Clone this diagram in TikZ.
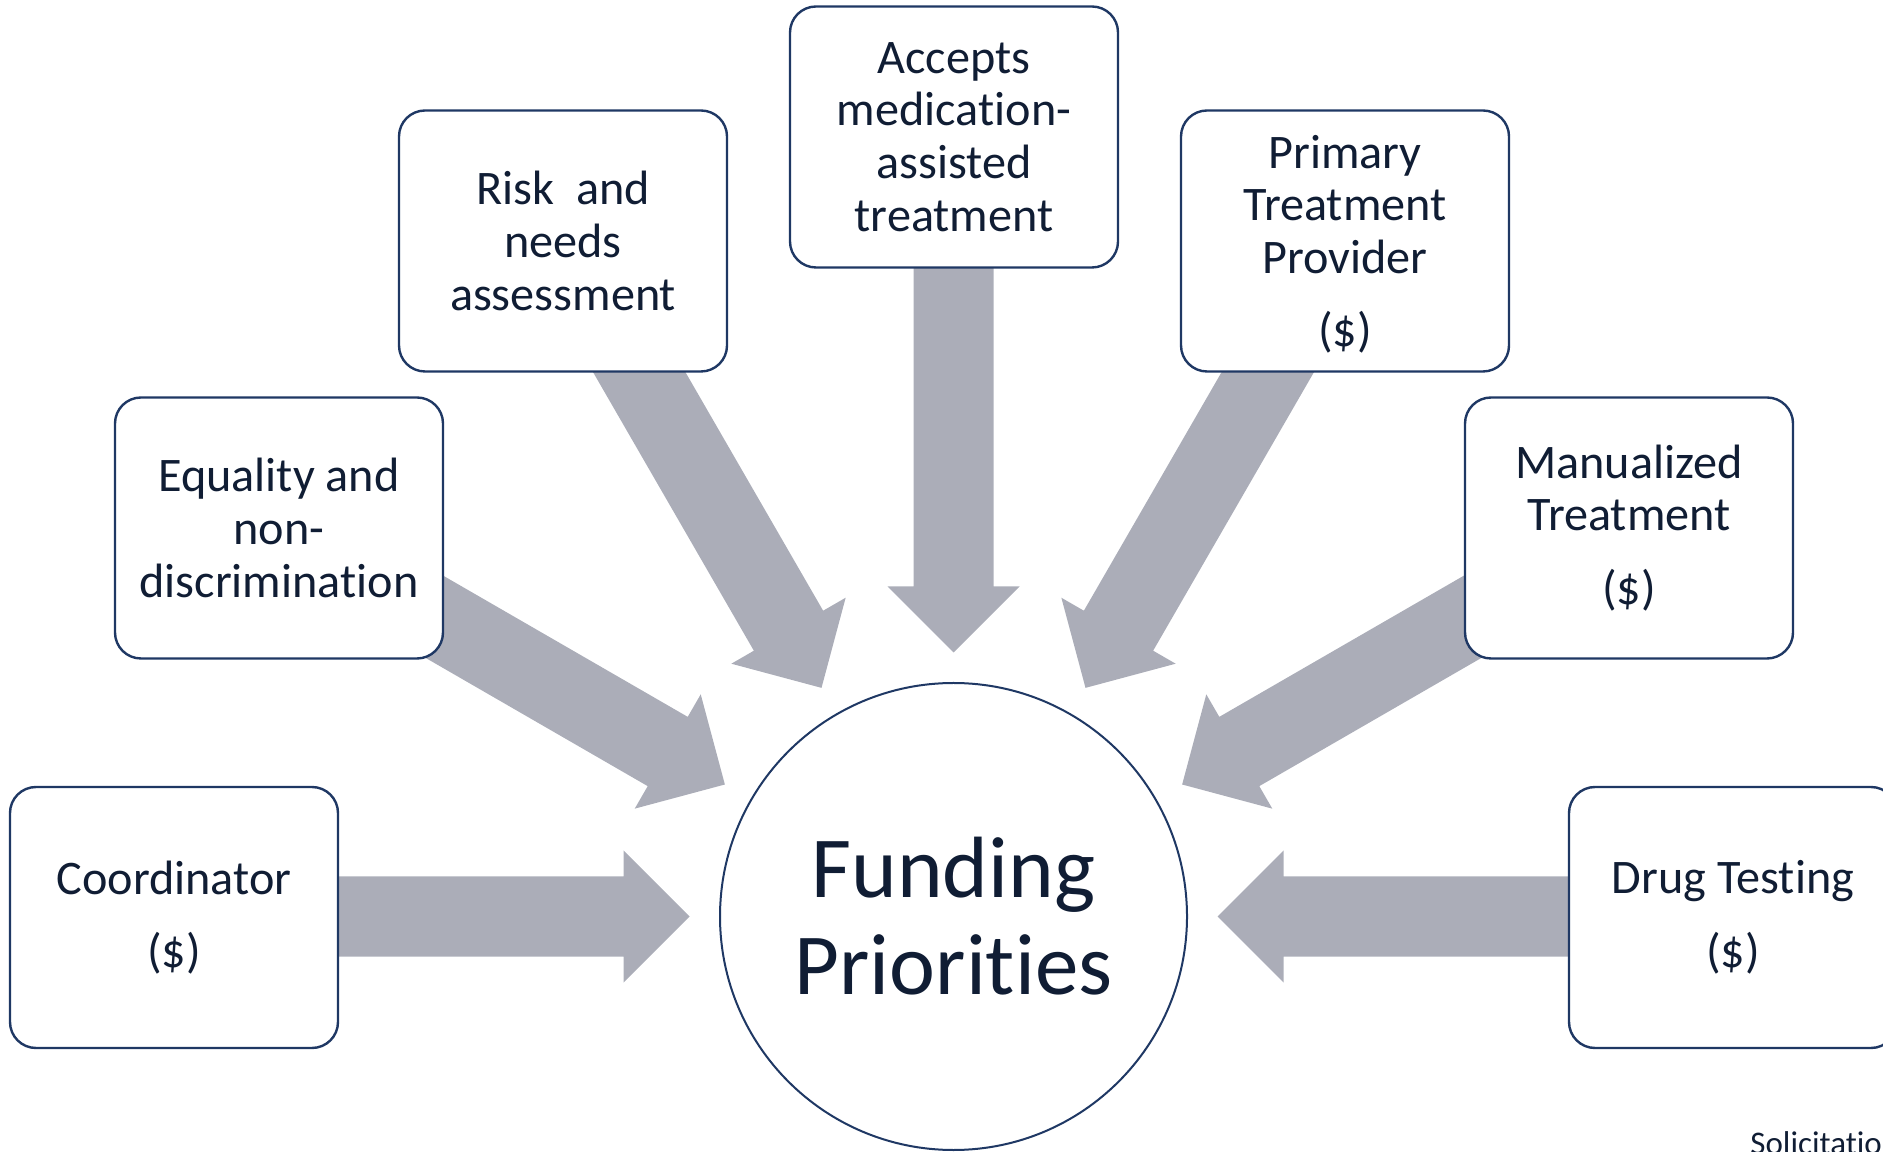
\documentclass[tikz,border=0pt]{standalone}
\usepackage{fontspec}
\setmainfont[Ligatures=NoCommon]{Carlito}
\usetikzlibrary{backgrounds}
\definecolor{navy}{RGB}{31,56,100}
\definecolor{ink}{RGB}{16,29,52}
\definecolor{arrowgray}{RGB}{171,173,184}
\begin{document}
\begin{tikzpicture}[x=0.5pt,y=0.5pt,
  box/.style={draw=navy, line width=1.2pt, rounded corners=13pt, fill=white,
    minimum width=164pt, minimum height=130.5pt, inner sep=0pt, align=center,
    text=ink, font=\fontsize{24.1}{26.3}\selectfont},
  hub/.style={circle, draw=navy, line width=1pt, fill=white, minimum size=233.5pt,
    inner sep=0pt, align=center, text=ink, font=\fontsize{43.5}{48.5}\selectfont},
  blockarrow/.style={fill=arrowgray, draw=none}]
\clip (0,0) rectangle (1883,1151);
\node[hub] (fp) at (953.5,234.5) {Funding\\Priorities};
\node[box] (coord) at (174,233.5) {Coordinator\\[10.5pt](\$)};
\node[box] (drug) at (1733,233.5) {Drug Testing\\[10.5pt](\$)};
\node[box] (eq) at (279,623) {Equality and\\non-\\discrimination};
\node[box] (man) at (1629,623) {Manualized\\Treatment\\[10.5pt](\$)};
\node[box] (risk) at (563,910) {Risk~ and\\needs\\assessment};
\node[box, text depth=0pt] (prim) at (1345,910) {Primary\\Treatment\\Provider\\[10.5pt](\$)};
\node[box] (mat) at (954,1014) {Accepts\\medication-\\assisted\\treatment};
\begin{scope}[on background layer]
\foreach \a in {0,30,60,90,120,150,180}{
  \begin{scope}[shift={(fp.center)}, rotate=\a]
    \fill[blockarrow] (264,0) -- (330,66) -- (330,40) -- (700,40) -- (700,-40) -- (330,-40) -- (330,-66) -- cycle;
  \end{scope}
}
\end{scope}
\node[anchor=base west, inner sep=0pt, text=ink, font=\fontsize{16.5}{19}\selectfont] (sol) at (1750,-3) {Solicitation};
\end{tikzpicture}
\end{document}
